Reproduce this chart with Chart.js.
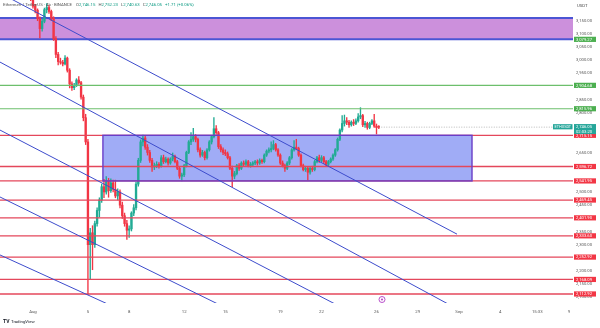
<!DOCTYPE html>
<html>
<head>
<meta charset="utf-8">
<script src="https://cdn.jsdelivr.net/npm/chart.js@4.4.1/dist/chart.umd.min.js"></script>
<style>
  html, body { margin: 0; padding: 0; background: #fff; }
  #wrap { width: 600px; height: 328px; position: relative; }
</style>
</head>
<body>
<div id="wrap"><canvas id="chart"></canvas></div>
<script>
// ETHUSDT 4h candles, first one Jul 29 16:00 (days counted from Aug 1 00:00)
const firstDay = -14 / 6;

const opens = [
  3330, 3325, 3300, 3285, 3298, 3272, 3290, 3305, 3332, 3338, 3310, 3280, 3258, 3245,
  3232, 3205, 3190, 3158, 3120, 3148, 3192, 3200, 3185, 3160, 3082, 3022, 2995, 2992,
  2986, 3008, 2962, 2910, 2896, 2905, 2925, 2915, 2860, 2782, 2690, 2300, 2345, 2300,
  2380, 2430, 2470, 2520, 2500, 2540, 2505, 2535, 2510, 2485, 2500, 2450, 2410, 2380,
  2355, 2360, 2420, 2440, 2530, 2620, 2690, 2705, 2670, 2650, 2620, 2595, 2600, 2605,
  2598, 2630, 2615, 2625, 2610, 2625, 2635, 2615, 2590, 2560, 2565, 2600, 2650, 2690,
  2700, 2710, 2700, 2660, 2640, 2650, 2630, 2660, 2690, 2710, 2740, 2725, 2672, 2660,
  2650, 2645, 2630, 2590, 2560, 2570, 2600, 2590, 2610, 2605, 2615, 2600, 2605, 2610,
  2615, 2610, 2620, 2615, 2640, 2655, 2660, 2665, 2680, 2660, 2640, 2610, 2600, 2590,
  2610, 2630, 2660, 2670, 2665, 2640, 2600, 2585, 2590, 2575, 2590, 2585, 2615, 2630,
  2620, 2630, 2615, 2605, 2615, 2625, 2640, 2660, 2700, 2735, 2760, 2770, 2765, 2755,
  2765, 2760, 2770, 2785, 2790, 2755, 2760, 2745, 2760, 2770, 2750, 2746.15
];
const highs = [
  3345, 3335, 3310, 3305, 3300, 3295, 3312, 3340, 3350, 3345, 3318, 3288, 3265, 3252,
  3240, 3212, 3195, 3165, 3155, 3198, 3215, 3208, 3190, 3165, 3090, 3030, 3008, 3000,
  3018, 3012, 2968, 2918, 2912, 2930, 2938, 2920, 2868, 2795, 2700, 2362, 2372, 2390,
  2440, 2478, 2530, 2548, 2558, 2552, 2550, 2545, 2545, 2512, 2508, 2462, 2420, 2392,
  2372, 2425, 2452, 2538, 2628, 2698, 2716, 2712, 2680, 2658, 2628, 2610, 2615, 2612,
  2638, 2640, 2632, 2630, 2630, 2648, 2640, 2620, 2595, 2572, 2605, 2655, 2695, 2725,
  2742, 2718, 2705, 2668, 2658, 2655, 2665, 2695, 2715, 2782, 2752, 2730, 2680, 2668,
  2660, 2652, 2635, 2598, 2578, 2605, 2608, 2615, 2618, 2622, 2620, 2612, 2615, 2620,
  2622, 2626, 2625, 2645, 2660, 2668, 2690, 2695, 2685, 2665, 2645, 2618, 2606, 2615,
  2635, 2665, 2695, 2700, 2670, 2645, 2606, 2598, 2595, 2595, 2598, 2620, 2635, 2640,
  2638, 2635, 2620, 2620, 2630, 2645, 2665, 2705, 2740, 2790, 2792, 2782, 2772, 2770,
  2775, 2778, 2798, 2820, 2795, 2768, 2765, 2765, 2775, 2795, 2758, 2752.23
];
const lows = [
  3315, 3290, 3275, 3280, 3265, 3262, 3284, 3300, 3320, 3300, 3270, 3250, 3236, 3226,
  3198, 3180, 3150, 3085, 3110, 3142, 3180, 3178, 3150, 3075, 3010, 2982, 2985, 2978,
  2982, 2955, 2895, 2885, 2888, 2900, 2908, 2852, 2770, 2680, 2111, 2170, 2205, 2290,
  2370, 2405, 2460, 2478, 2492, 2480, 2498, 2500, 2478, 2470, 2440, 2400, 2370, 2320,
  2328, 2352, 2410, 2432, 2522, 2612, 2675, 2662, 2640, 2612, 2578, 2585, 2592, 2590,
  2594, 2608, 2610, 2602, 2605, 2618, 2610, 2585, 2552, 2542, 2558, 2595, 2645, 2680,
  2692, 2690, 2652, 2632, 2635, 2622, 2625, 2655, 2682, 2705, 2718, 2665, 2652, 2642,
  2638, 2625, 2585, 2520, 2550, 2565, 2582, 2585, 2598, 2600, 2595, 2594, 2598, 2604,
  2602, 2605, 2608, 2610, 2635, 2648, 2652, 2660, 2655, 2635, 2605, 2595, 2578, 2585,
  2604, 2625, 2655, 2660, 2635, 2595, 2580, 2578, 2545, 2568, 2578, 2580, 2610, 2612,
  2615, 2608, 2598, 2600, 2610, 2620, 2635, 2655, 2695, 2728, 2750, 2755, 2745, 2750,
  2752, 2755, 2765, 2778, 2748, 2745, 2738, 2740, 2755, 2745, 2720, 2740.63
];
const closes = [
  3325, 3300, 3285, 3298, 3272, 3290, 3305, 3332, 3338, 3310, 3280, 3258, 3245, 3232,
  3205, 3190, 3158, 3120, 3148, 3192, 3200, 3185, 3160, 3082, 3022, 2995, 2992, 2986,
  3008, 2962, 2910, 2896, 2905, 2925, 2915, 2860, 2782, 2690, 2300, 2345, 2300, 2380,
  2430, 2470, 2520, 2500, 2540, 2505, 2535, 2510, 2485, 2500, 2450, 2410, 2380, 2355,
  2360, 2420, 2440, 2530, 2620, 2690, 2705, 2670, 2650, 2620, 2595, 2600, 2605, 2598,
  2630, 2615, 2625, 2610, 2625, 2635, 2615, 2590, 2560, 2565, 2600, 2650, 2690, 2700,
  2710, 2700, 2660, 2640, 2650, 2630, 2660, 2690, 2710, 2740, 2725, 2672, 2660, 2650,
  2645, 2630, 2590, 2560, 2570, 2600, 2590, 2610, 2605, 2615, 2600, 2605, 2610, 2615,
  2610, 2620, 2615, 2640, 2655, 2660, 2665, 2680, 2660, 2640, 2610, 2600, 2590, 2610,
  2630, 2660, 2670, 2665, 2640, 2600, 2585, 2590, 2575, 2590, 2585, 2615, 2630, 2620,
  2630, 2615, 2605, 2615, 2625, 2640, 2660, 2700, 2735, 2760, 2770, 2765, 2755, 2765,
  2760, 2770, 2785, 2790, 2755, 2760, 2745, 2760, 2770, 2750, 2744.34, 2746.05
];

// drawn levels
const zoneTop = 3160.4;
const zoneBottom = 3079.27;
const greenLevels = [2904.68, 2815.96];
const redLevels = [2715.15, 2596.72, 2541.95, 2469.45, 2401.90, 2333.60, 2252.92, 2168.09, 2112.92];
const boxStartDay = 5.09;
const boxEndDay = 31.95;
const boxTop = 2715.15;
const boxBottom = 2541.95;
// trend channel lines: [startDay, startPrice, endDay, endPrice]
const channelLines = [
  [-2.40, 3255, 30.86, 2340],
  [-2.40, 2993, 30.35, 2071],
  [-2.40, 2735, 22.13, 2071],
  [-2.40, 2481, 13.61, 2071],
  [-2.40, 2261, 5.60, 2071]
];
const lastPrice = 2746.05;

const xTickDays = [0, 4, 7, 11, 14, 18, 21, 25, 28, 31, 34, 36.7, 39];
const xTickLabels = ['Aug', '5', '8', '12', '15', '19', '22', '26', '29', 'Sep', '4', '15:33', '9'];
const yHidden = [3200, 2900, 2750, 2700, 2600, 2550, 2400, 2250];

const UP = '#22ab94';
const DOWN = '#f23645';
const FONT = 'Roboto, "DejaVu Sans", sans-serif';

const days = closes.map((c, i) => firstDay + i / 6);
const colors = closes.map((c, i) => (c >= opens[i] ? UP : DOWN));

function fmt(v) {
  return v.toLocaleString('en-US', { minimumFractionDigits: 2, maximumFractionDigits: 2 });
}

function priceTag(ctx, area, y, text, bg) {
  ctx.fillStyle = bg;
  ctx.fillRect(area.right + 1, y - 2.6, 22, 5.2);
  ctx.fillStyle = '#fff';
  ctx.font = '4.2px ' + FONT;
  ctx.textAlign = 'left';
  ctx.textBaseline = 'middle';
  ctx.fillText(text, area.right + 3, y + 0.2);
}

const overlay = {
  id: 'overlay',
  beforeDatasetsDraw(chart) {
    const { ctx, chartArea: a, scales: { x, y } } = chart;
    ctx.save();
    ctx.beginPath();
    ctx.rect(a.left, a.top, a.right - a.left, a.bottom - a.top);
    ctx.clip();
    // resistance zone
    const zt = y.getPixelForValue(zoneTop), zb = y.getPixelForValue(zoneBottom);
    ctx.fillStyle = '#cc90dc';
    ctx.fillRect(a.left, zt, a.right - a.left, zb - zt);
    ctx.strokeStyle = '#4b55d4';
    ctx.lineWidth = 2;
    ctx.beginPath();
    ctx.moveTo(a.left, zt); ctx.lineTo(a.right, zt);
    ctx.moveTo(a.left, zb); ctx.lineTo(a.right, zb);
    ctx.stroke();
    // range box
    const bx1 = x.getPixelForValue(boxStartDay), bx2 = x.getPixelForValue(boxEndDay);
    const by1 = y.getPixelForValue(boxTop), by2 = y.getPixelForValue(boxBottom);
    ctx.fillStyle = 'rgba(96,116,240,0.6)';
    ctx.fillRect(bx1, by1, bx2 - bx1, by2 - by1);
    ctx.restore();
  },
  afterDatasetsDraw(chart) {
    const { ctx, chartArea: a, scales: { x, y } } = chart;
    ctx.save();
    ctx.beginPath();
    ctx.rect(a.left, a.top, a.right - a.left, a.bottom - a.top);
    ctx.clip();
    ctx.lineWidth = 1.1;
    ctx.strokeStyle = '#6dbf6c';
    greenLevels.forEach(v => {
      const py = y.getPixelForValue(v);
      ctx.beginPath(); ctx.moveTo(a.left, py); ctx.lineTo(a.right, py); ctx.stroke();
    });
    ctx.strokeStyle = '#e4475b';
    ctx.lineWidth = 1.3;
    redLevels.forEach(v => {
      const py = y.getPixelForValue(v);
      ctx.beginPath(); ctx.moveTo(a.left, py); ctx.lineTo(a.right, py); ctx.stroke();
    });
    // box border
    const bx1 = x.getPixelForValue(boxStartDay), bx2 = x.getPixelForValue(boxEndDay);
    const by1 = y.getPixelForValue(boxTop), by2 = y.getPixelForValue(boxBottom);
    ctx.strokeStyle = '#6a3ec8';
    ctx.lineWidth = 1.4;
    ctx.strokeRect(bx1, by1, bx2 - bx1, by2 - by1);
    // channel
    ctx.strokeStyle = '#3d4ccc';
    ctx.lineWidth = 1;
    channelLines.forEach(l => {
      ctx.beginPath();
      ctx.moveTo(x.getPixelForValue(l[0]), y.getPixelForValue(l[1]));
      ctx.lineTo(x.getPixelForValue(l[2]), y.getPixelForValue(l[3]));
      ctx.stroke();
    });
    // last price line
    const lp = y.getPixelForValue(lastPrice);
    ctx.strokeStyle = 'rgba(110,110,110,0.6)';
    ctx.setLineDash([1, 1.5]);
    ctx.lineWidth = 0.8;
    ctx.beginPath();
    ctx.moveTo(x.getPixelForValue(days[days.length - 1]), lp);
    ctx.lineTo(a.right, lp);
    ctx.stroke();
    ctx.setLineDash([]);
    // event marker
    ctx.strokeStyle = '#b23fc6';
    ctx.lineWidth = 0.9;
    ctx.beginPath();
    ctx.arc(x.getPixelForValue(25.4), a.bottom - 3.5, 3, 0, Math.PI * 2);
    ctx.stroke();
    ctx.fillStyle = '#b23fc6';
    ctx.beginPath();
    ctx.arc(x.getPixelForValue(25.4), a.bottom - 3.5, 1, 0, Math.PI * 2);
    ctx.fill();
    ctx.restore();
  },
  afterDraw(chart) {
    const { ctx, chartArea: a, scales: { y } } = chart;
    ctx.save();
    // price tags
    priceTag(ctx, a, y.getPixelForValue(zoneBottom), fmt(zoneBottom), '#4caf50');
    greenLevels.forEach(v => priceTag(ctx, a, y.getPixelForValue(v), fmt(v), '#4caf50'));
    redLevels.forEach(v => priceTag(ctx, a, y.getPixelForValue(v), fmt(v), DOWN));
    const lp = y.getPixelForValue(lastPrice);
    priceTag(ctx, a, lp - 0.5, fmt(lastPrice), '#26a69a');
    priceTag(ctx, a, lp + 4.3, '02:03:20', '#26a69a');
    ctx.fillStyle = '#26a69a';
    ctx.fillRect(a.right - 20, lp - 3, 19.5, 5.2);
    ctx.fillStyle = '#fff';
    ctx.font = '3.8px ' + FONT;
    ctx.textAlign = 'left';
    ctx.fillText('ETHUSDT', a.right - 18.5, lp - 0.3);
    // currency
    ctx.fillStyle = '#444';
    ctx.font = '4.2px ' + FONT;
    ctx.fillText('USDT', a.right + 4, 5.5);
    // header
    ctx.textBaseline = 'middle';
    ctx.fillStyle = '#555';
    ctx.font = '4.3px ' + FONT;
    ctx.fillText('Ethereum / TetherUS \u00b7 4h \u00b7 BINANCE', 3, 5);
    let tx = 76;
    [['O', '2,746.15'], ['H', '2,752.23'], ['L', '2,740.63'], ['C', '2,746.05'], ['', '+1.71 (+0.06%)']].forEach(p => {
      ctx.fillStyle = '#555';
      ctx.fillText(p[0], tx, 5);
      tx += ctx.measureText(p[0]).width;
      ctx.fillStyle = '#089981';
      ctx.fillText(p[1], tx, 5);
      tx += ctx.measureText(p[1]).width + 3;
    });
    // logo
    ctx.fillStyle = '#131722';
    ctx.font = 'bold 5px ' + FONT;
    ctx.fillText('TV', 3, 322);
    ctx.font = '4.3px ' + FONT;
    ctx.fillText('TradingView', 11, 322);
    ctx.restore();
  }
};

new Chart(document.getElementById('chart'), {
  type: 'bar',
  data: {
    datasets: [
      {
        label: 'wick',
        data: days.map((d, i) => ({ x: d, y: [lows[i], highs[i]] })),
        backgroundColor: colors,
        barThickness: 0.7,
        grouped: false
      },
      {
        label: 'body',
        data: days.map((d, i) => ({ x: d, y: [opens[i], closes[i]] })),
        backgroundColor: colors,
        barThickness: 1.7,
        minBarLength: 0.7,
        grouped: false
      }
    ]
  },
  options: {
    responsive: true,
    maintainAspectRatio: false,
    animation: false,
    layout: { padding: 0 },
    plugins: { legend: { display: false }, tooltip: { enabled: false } },
    scales: {
      x: {
        type: 'linear',
        min: -2.40,
        max: 39.30,
        offset: false,
        grid: { display: false, drawTicks: false },
        border: { display: false },
        afterBuildTicks: s => { s.ticks = xTickDays.map(v => ({ value: v })); },
        afterFit: s => { s.height = 25; s.paddingLeft = 0; s.paddingRight = 0; },
        ticks: {
          autoSkip: false,
          maxRotation: 0,
          padding: 6,
          color: '#555',
          font: { family: FONT, size: 4.3 },
          callback: (v, i) => xTickLabels[i]
        }
      },
      y: {
        position: 'right',
        min: 2078.7,
        max: 3228.6,
        grid: { display: false, drawTicks: false },
        border: { display: false },
        afterBuildTicks: s => {
          const t = [];
          for (let v = 2100; v <= 3200; v += 50) t.push({ value: v });
          s.ticks = t;
        },
        afterFit: s => { s.width = 27; s.paddingTop = 0; s.paddingBottom = 0; },
        ticks: {
          padding: 3,
          color: '#555',
          font: { family: FONT, size: 4.2 },
          callback: v => (yHidden.includes(v) ? '' : fmt(v))
        }
      }
    }
  },
  plugins: [overlay]
});
</script>
</body>
</html>
